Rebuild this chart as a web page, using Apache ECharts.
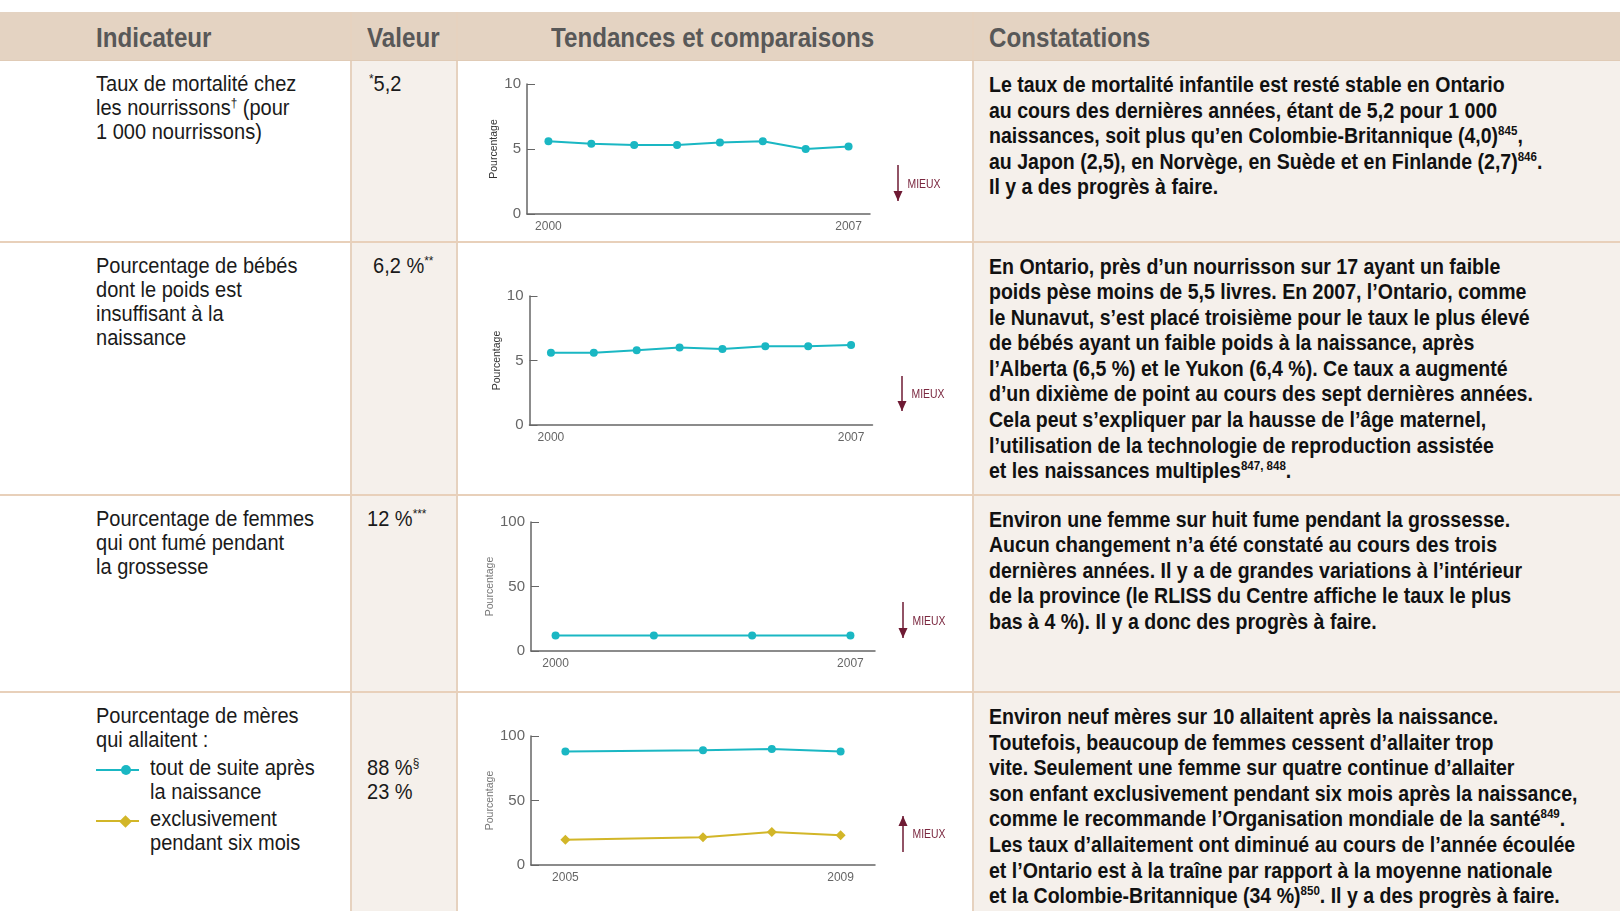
<!DOCTYPE html>
<html>
<head>
<meta charset="utf-8">
<script src="https://cdn.jsdelivr.net/npm/echarts@6/dist/echarts.min.js"></script>
<style>
body { margin:0; width:1620px; height:911px; overflow:hidden; background:#fff;
  font-family:"Liberation Sans",Arial,sans-serif; position:relative; }
.abs { position:absolute; white-space:nowrap; }
.hdr { top:12px; left:0; width:1620px; height:49px; background:#e4d3c2; }
.htxt { top:14px; height:49px; line-height:49px; font-weight:bold; font-size:27px; color:#585858;
  transform:scaleX(0.895); transform-origin:0 0; }
.col { background:#f5f0eb; top:61px; height:850px; }
.vl { width:2px; background:#e6d2bf; top:12px; height:899px; }
.hl { left:0; width:1620px; height:2px; background:#e8d0ba; }
.ind, .val { font-size:22px; line-height:24px; color:#1a1a1a; transform:scaleX(0.91); transform-origin:0 0; }
.ind { left:96px; }
.con { left:989px; font-size:22px; line-height:25.6px; font-weight:bold; color:#111;
  transform:scaleX(0.888); transform-origin:0 0; }
sup { font-size:13px; line-height:0; vertical-align:8px; }
.ln { position:absolute; left:96px; width:43px; height:2px; }
.dot { position:absolute; left:121px; width:10px; height:10px; border-radius:5px; }
.dia { position:absolute; left:121px; width:9px; height:9px; transform:rotate(45deg); }
#chart { position:absolute; left:0; top:0; width:1620px; height:911px; }
</style>
</head>
<body>
<div class="abs hdr"></div>
<div class="abs col" style="left:352px;width:105px;"></div>
<div class="abs col" style="left:974px;width:646px;"></div>
<div class="abs vl" style="left:350px;"></div>
<div class="abs vl" style="left:456px;"></div>
<div class="abs vl" style="left:972px;"></div>
<div class="abs hl" style="top:60px;background:#e0cbb6;height:1px;"></div>
<div class="abs hl" style="top:241px;"></div>
<div class="abs hl" style="top:494px;"></div>
<div class="abs hl" style="top:691px;"></div>

<div class="abs htxt" style="left:96px;">Indicateur</div>
<div class="abs htxt" style="left:367px;">Valeur</div>
<div class="abs htxt" style="left:551px;">Tendances et comparaisons</div>
<div class="abs htxt" style="left:989px;">Constatations</div>

<div class="abs ind" style="top:72px;">Taux de mortalité chez<br>les nourrissons<sup>†</sup> (pour<br>1 000 nourrissons)</div>
<div class="abs ind" style="top:253.5px;">Pourcentage de bébés<br>dont le poids est<br>insuffisant à la<br>naissance</div>
<div class="abs ind" style="top:506.7px;">Pourcentage de femmes<br>qui ont fumé pendant<br>la grossesse</div>
<div class="abs ind" style="top:704px;">Pourcentage de mères<br>qui allaitent :</div>
<div class="abs ind" style="top:755.6px;left:150px;">tout de suite après<br>la naissance</div>
<div class="abs ind" style="top:807px;left:150px;">exclusivement<br>pendant six mois</div>
<span class="ln" style="top:769px;background:#1ab7c3"></span><span class="dot" style="top:765px;background:#1ab7c3"></span>
<span class="ln" style="top:820px;background:#d2b628"></span><span class="dia" style="top:816.5px;background:#d2b628"></span>

<div class="abs val" style="top:72px;left:369px;"><sup>*</sup>5,2</div>
<div class="abs val" style="top:253.5px;left:373px;">6,2 %<sup>**</sup></div>
<div class="abs val" style="top:506.7px;left:367px;">12 %<sup>***</sup></div>
<div class="abs val" style="top:755.6px;left:367px;">88 %<sup>§</sup><br>23 %</div>

<div class="abs con" style="top:72px;">Le taux de mortalité infantile est resté stable en Ontario<br>au cours des dernières années, étant de 5,2 pour 1 000<br>naissances, soit plus qu’en Colombie-Britannique (4,0)<sup>845</sup>,<br>au Japon (2,5), en Norvège, en Suède et en Finlande (2,7)<sup>846</sup>.<br>Il y a des progrès à faire.</div>
<div class="abs con" style="top:253.5px;">En Ontario, près d’un nourrisson sur 17 ayant un faible<br>poids pèse moins de 5,5 livres. En 2007, l’Ontario, comme<br>le Nunavut, s’est placé troisième pour le taux le plus élevé<br>de bébés ayant un faible poids à la naissance, après<br>l’Alberta (6,5 %) et le Yukon (6,4 %). Ce taux a augmenté<br>d’un dixième de point au cours des sept dernières années.<br>Cela peut s’expliquer par la hausse de l’âge maternel,<br>l’utilisation de la technologie de reproduction assistée<br>et les naissances multiples<sup>847, 848</sup>.</div>
<div class="abs con" style="top:506.7px;">Environ une femme sur huit fume pendant la grossesse.<br>Aucun changement n’a été constaté au cours des trois<br>dernières années. Il y a de grandes variations à l’intérieur<br>de la province (le RLISS du Centre affiche le taux le plus<br>bas à 4 %). Il y a donc des progrès à faire.</div>
<div class="abs con" style="top:704px;">Environ neuf mères sur 10 allaitent après la naissance.<br>Toutefois, beaucoup de femmes cessent d’allaiter trop<br>vite. Seulement une femme sur quatre continue d’allaiter<br>son enfant exclusivement pendant six mois après la naissance,<br>comme le recommande l’Organisation mondiale de la santé<sup>849</sup>.<br>Les taux d’allaitement ont diminué au cours de l’année écoulée<br>et l’Ontario est à la traîne par rapport à la moyenne nationale<br>et la Colombie-Britannique (34 %)<sup>850</sup>. Il y a des progrès à faire.</div>

<div id="chart"></div>
<script>
// données
var years1 = ['2000','','','','','','','2007'];
var infantMortality = [5.6, 5.4, 5.3, 5.3, 5.5, 5.6, 5.0, 5.2];
var years2 = ['2000','','','','','','','2007'];
var lowBirthWeight = [5.6, 5.6, 5.8, 6.0, 5.9, 6.1, 6.1, 6.2];
var years3 = ['2000','','','','','','2007'];
var smoking = [12, null, 12, null, 12, null, 12];
var years4 = ['2005','','','','2009'];
var breastfedAtBirth = [88, null, 89, 90, 88];
var breastfedSixMonths = [19.5, null, 21.5, 25.5, 23];

var cyan = '#1ab7c3';
var yellow = '#d2b628';
var maroon = '#6e1a33';
var font = '"Liberation Sans",Arial,sans-serif';

// positions des 4 petits graphiques
var grids = [
    {left: 527, top: 84, width: 343, height: 130},
    {left: 529.5, top: 296, width: 343, height: 129},
    {left: 531, top: 522, width: 344, height: 129},
    {left: 531, top: 736, width: 344, height: 129}
];
var cats = [years1, years2, years3, years4];
var maxes = [10, 10, 100, 100];

function xAxisFor(i) {
    return {
        type: 'category', gridIndex: i, data: cats[i], boundaryGap: true,
        axisLine: {lineStyle: {color: '#666', width: 1.5}},
        axisTick: {alignWithLabel: true, inside: true, length: 4, interval: 0, lineStyle: {color: '#666'}},
        axisLabel: {interval: 0, fontSize: 12, color: '#666', margin: 7}
    };
}
function yAxisFor(i) {
    return {
        type: 'value', gridIndex: i, min: 0, max: maxes[i], interval: maxes[i] / 2,
        name: 'Pourcentage', nameLocation: 'middle', nameGap: 27,
        nameTextStyle: {fontSize: 10.5, color: i < 2 ? '#333' : '#777'},
        axisLine: {show: true, lineStyle: {color: '#666', width: 1.5}},
        axisTick: {show: true, inside: true, length: 8, lineStyle: {color: '#666'}},
        axisLabel: {fontSize: 15, color: '#666', margin: 6},
        splitLine: {show: false}
    };
}
function lineSeries(i, data, color, symbol, size) {
    return {
        type: 'line', xAxisIndex: i, yAxisIndex: i, data: data, connectNulls: true,
        symbol: symbol, symbolSize: size, showSymbol: true,
        lineStyle: {color: color, width: 2}, itemStyle: {color: color}
    };
}
function arrow(x, y1, y2, up) {
    var tip = up ? y1 : y2;
    var base = up ? y1 + 10 : y2 - 10;
    return [
        {type: 'line', shape: {x1: x, y1: y1, x2: x, y2: y2}, style: {stroke: maroon, lineWidth: 1.5}},
        {type: 'polygon', shape: {points: [[x - 4.5, base], [x + 4.5, base], [x, tip]]}, style: {fill: maroon}},
        {type: 'text', x: x + 9.5, y: (y1 + y2) / 2 + (up ? 0 : 1), scaleX: 0.8,
            style: {text: 'MIEUX', fill: '#7b2840', font: '13px ' + font, verticalAlign: 'middle'}}
    ];
}

var myChart = echarts.init(document.getElementById('chart'));
myChart.setOption({
    backgroundColor: 'transparent',
    animation: false,
    textStyle: {fontFamily: font},
    grid: grids,
    xAxis: [xAxisFor(0), xAxisFor(1), xAxisFor(2), xAxisFor(3)],
    yAxis: [yAxisFor(0), yAxisFor(1), yAxisFor(2), yAxisFor(3)],
    series: [
        lineSeries(0, infantMortality, cyan, 'circle', 8),
        lineSeries(1, lowBirthWeight, cyan, 'circle', 8),
        lineSeries(2, smoking, cyan, 'circle', 8),
        lineSeries(3, breastfedAtBirth, cyan, 'circle', 8),
        lineSeries(3, breastfedSixMonths, yellow, 'diamond', 10)
    ],
    graphic: [].concat(
        arrow(898, 165, 201, false),
        arrow(902, 376, 411, false),
        arrow(903, 602, 638, false),
        arrow(903, 816, 852, true)
    )
});
</script>
</body>
</html>
